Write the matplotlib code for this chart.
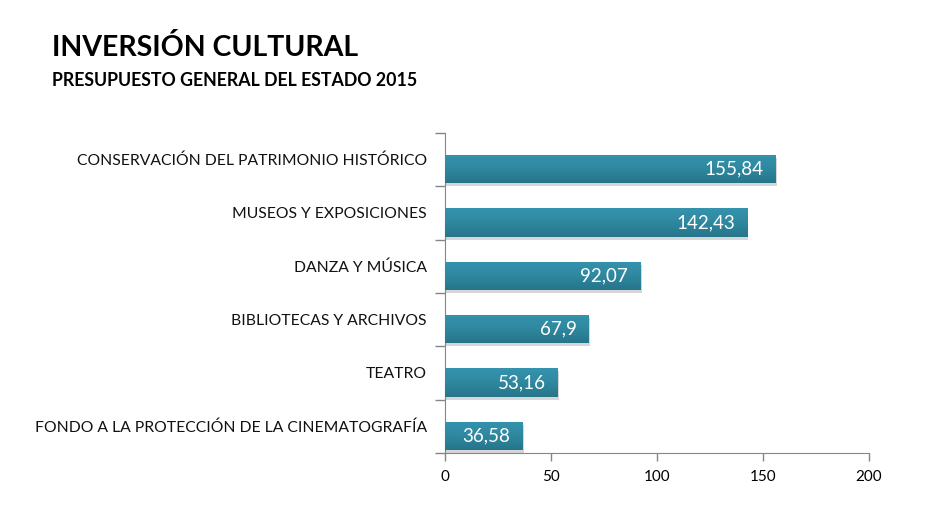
import matplotlib
matplotlib.use('Agg')
import matplotlib.pyplot as plt
import matplotlib.patheffects as pe
import numpy as np
from matplotlib.colors import LinearSegmentedColormap
from matplotlib.transforms import offset_copy

# datos del grafico
categorias = ['CONSERVACIÓN DEL PATRIMONIO HISTÓRICO', 'MUSEOS Y EXPOSICIONES',
              'DANZA Y MÚSICA', 'BIBLIOTECAS Y ARCHIVOS', 'TEATRO',
              'FONDO A LA PROTECCIÓN DE LA CINEMATOGRAFÍA']
valores = [155.84, 142.43, 92.07, 67.9, 53.16, 36.58]
xticks = [0, 50, 100, 150, 200]

plt.rcParams['font.family'] = ['Lato', 'DejaVu Sans']

fig = plt.figure(figsize=(9.25, 5.21), dpi=100)
ax = fig.add_axes([0.481, 0.1305, 0.4585, 0.6142])

pos = list(range(len(categorias)))
desp = 0.18  # las barras quedan algo por debajo del centro de cada franja
alto = 0.53
barras = ax.barh([p + desp for p in pos], valores, height=alto, color='#31859C', zorder=3)
for b in barras:
    b.set_path_effects([pe.SimplePatchShadow(offset=(1, -2), shadow_rgbFace='#8a8a8a', alpha=0.35),
                        pe.Normal()])

# degradado vertical dentro de cada barra
cmap = LinearSegmentedColormap.from_list('teal', ['#3593ae', '#2f889f', '#26758b'])
grad = np.linspace(0, 1, 64).reshape(-1, 1)
for b in barras:
    x0, y0 = b.get_x(), b.get_y()
    im = ax.imshow(grad, cmap=cmap, aspect='auto', zorder=3.5,
                   extent=(x0, x0 + b.get_width(), y0 + b.get_height(), y0), origin='upper')
    im.set_clip_path(b)

ax.set_ylim(len(categorias) - 0.5, -0.5)
ax.set_xlim(0, 200)

# valores dentro de las barras
for p, v in zip(pos, valores):
    txt = ('%g' % v).replace('.', ',')
    ax.text(v, p + desp, txt, ha='right', va='center', color='white', fontsize=13.5,
            transform=offset_copy(ax.transData, fig=fig, x=-12, y=0, units='dots'), zorder=4)

# etiquetas de categorias
trans = offset_copy(ax.get_yaxis_transform(), fig=fig, x=-18, y=-1, units='dots')
for p, c in zip(pos, categorias):
    ax.text(0, p, c, ha='right', va='center', fontsize=11.3, color='#111111', transform=trans)

ax.set_yticks([p - 0.5 for p in pos] + [len(categorias) - 0.5])
ax.set_yticklabels([])
ax.set_xticks(xticks)
ax.set_xticklabels([str(x) for x in xticks], fontsize=11)
ax.tick_params(axis='y', length=7, color='#868686', width=1)
ax.tick_params(axis='x', length=6, color='#868686', width=1, pad=6)

for s in ['top', 'right']:
    ax.spines[s].set_visible(False)
for s in ['left', 'bottom']:
    ax.spines[s].set_color('#868686')

fig.text(52 / 925, 1 - 47 / 521, 'INVERSIÓN CULTURAL', fontsize=20.5, fontweight='bold',
         va='center', ha='left', color='#000000')
fig.text(52 / 925, 1 - 80 / 521, 'PRESUPUESTO GENERAL DEL ESTADO 2015', fontsize=12.8,
         fontweight='bold', va='center', ha='left', color='#000000')

fig.savefig('out.png', dpi=100)
